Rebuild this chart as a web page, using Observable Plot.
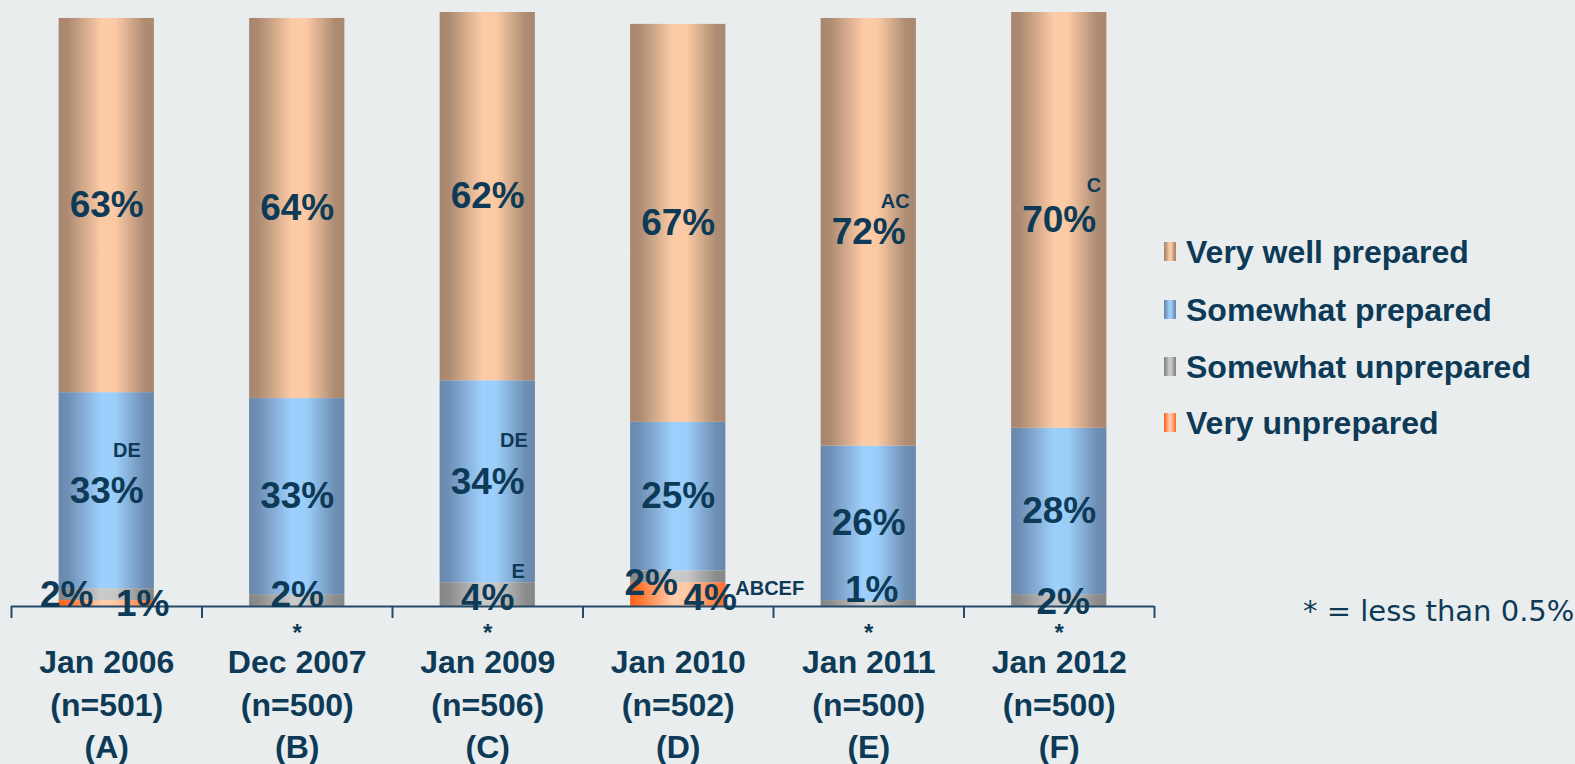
<!DOCTYPE html>
<html>
<head>
<meta charset="utf-8">
<script src="https://cdn.jsdelivr.net/npm/d3@7"></script>
<script src="https://cdn.jsdelivr.net/npm/@observablehq/plot@0.6"></script>
<style>
  body { margin: 0; background: #e9edee; }
  #wrap { position: relative; width: 1575px; height: 764px; overflow: hidden; background: #e9edee; font-family: "Liberation Sans", Arial, sans-serif; color: #0d3a56; }
  #wrap svg { position: absolute; left: 0; top: 0; }
  .leg { position: absolute; left: 1186px; font-size: 32px; line-height: 32px; font-weight: bold; white-space: nowrap; }
  .sw { position: absolute; left: 1164px; width: 12px; height: 19px; }
  .note { position: absolute; left: 1303px; top: 597px; font-family: "DejaVu Sans", Verdana, sans-serif; font-size: 29px; line-height: 29px; white-space: nowrap; }
</style>
</head>
<body>
<div id="wrap"></div>
<script>
// ---------------- data ----------------
const dates = ["Jan 2006", "Dec 2007", "Jan 2009", "Jan 2010", "Jan 2011", "Jan 2012"];
const sampleSizes = ["(n=501)", "(n=500)", "(n=506)", "(n=502)", "(n=500)", "(n=500)"];
const waveLetters = ["(A)", "(B)", "(C)", "(D)", "(E)", "(F)"];

// stacking order bottom -> top
const seriesNames = ["Very unprepared", "Somewhat unprepared", "Somewhat prepared", "Very well prepared"];
const veryUnprepared     = [1, 0, 0, 4, 0, 0];   // 0 = "*" (less than 0.5%)
const somewhatUnprepared = [2, 2, 4, 2, 1, 2];
const somewhatPrepared   = [33, 33, 34, 25, 26, 28];
const veryWellPrepared   = [63, 64, 62, 67, 72, 70];

// significance letters
const sigVeryUnprepared     = ["", "", "", "ABCEF", "", ""];
const sigSomewhatUnprepared = ["", "", "E", "", "", ""];
const sigSomewhatPrepared   = ["DE", "", "DE", "", "", ""];
const sigVeryWellPrepared   = ["", "", "", "", "AC", "C"];

const legendOrder = ["Very well prepared", "Somewhat prepared", "Somewhat unprepared", "Very unprepared"];
const footnote = "* = less than 0.5%";

// ---------------- styles ----------------
const ink = "#0d3a56";
const axisColor = "#244a68";
const font = "Liberation Sans, Arial, sans-serif";
const gradients = {
  "Very well prepared":  [[0,"#a9876e"],[0.1,"#ad8b72"],[0.45,"#fdcba6"],[0.6,"#fbc9a4"],[0.9,"#ad8c73"],[1,"#a9886f"]],
  "Somewhat prepared":   [[0,"#6988ad"],[0.1,"#6f90b6"],[0.45,"#9ed0fd"],[0.6,"#9bcdf9"],[0.9,"#6e8fb4"],[1,"#6988ad"]],
  "Somewhat unprepared": [[0,"#878787"],[0.1,"#8c8c8c"],[0.45,"#cbcbcb"],[0.6,"#c7c7c7"],[0.9,"#8c8c8c"],[1,"#878787"]],
  "Very unprepared":     [[0,"#ff6216"],[0.1,"#ff7430"],[0.45,"#ffcdac"],[0.6,"#ffc7a4"],[0.9,"#ff8244"],[1,"#ff6a20"]]
};
const gradId = s => "g-" + seriesNames.indexOf(s);

// ---------------- table ----------------
const valuesBySeries = [veryUnprepared, somewhatUnprepared, somewhatPrepared, veryWellPrepared];
const sigBySeries = [sigVeryUnprepared, sigSomewhatUnprepared, sigSomewhatPrepared, sigVeryWellPrepared];
const rows = [];
dates.forEach((date, i) => {
  let acc = 0;
  seriesNames.forEach((s, k) => {
    const v = valuesBySeries[k][i];
    rows.push({i, date, series: s, value: v, y1: acc, y2: acc + v, mid: acc + v / 2, sig: sigBySeries[k][i]});
    acc += v;
  });
});

// pixel nudges for the small labels (layout only)
const smallNudge = {
  "0|Somewhat unprepared": [-40, 1], "0|Very unprepared": [36, 1],
  "1|Somewhat unprepared": [0, -5],
  "2|Somewhat unprepared": [0, 4],
  "3|Somewhat unprepared": [-27, 6], "3|Very unprepared": [32, 4],
  "4|Somewhat unprepared": [3, -13],
  "5|Somewhat unprepared": [4, 2]
};
const sigNudge = {
  "0|Somewhat prepared": [34, -40, "end"],
  "2|Somewhat prepared": [40, -41, "end"],
  "2|Somewhat unprepared": [37, -23, "end"],
  "3|Very unprepared": [57, -6, "start"],
  "4|Very well prepared": [41, -31, "end"],
  "5|Very well prepared": [42, -35, "end"]
};

const xc = d => d.i + 0.5;
const marks = [];

// bars
seriesNames.forEach(s => {
  marks.push(Plot.rect(rows.filter(d => d.series === s && d.value > 0), {
    x1: d => d.i + 0.25, x2: d => d.i + 0.75, y1: "y1", y2: "y2", fill: `url(#${gradId(s)})`
  }));
});

// axis
marks.push(Plot.ruleY([0], {stroke: axisColor, strokeWidth: 2}));
marks.push(Plot.axisX({ticks: d3.range(dates.length + 1), tickSize: 12, tickFormat: () => "", stroke: axisColor, strokeWidth: 2}));

// big labels
marks.push(Plot.text(rows.filter(d => d.series === "Somewhat prepared" || d.series === "Very well prepared"), {
  x: xc, y: "mid", text: d => d.value + "%", fontSize: 37, fontWeight: "bold", fill: ink, fontFamily: font
}));

// small labels
rows.filter(d => (d.series === "Somewhat unprepared" || d.series === "Very unprepared") && d.value > 0).forEach(d => {
  const [dx, dy] = smallNudge[d.i + "|" + d.series] || [0, 0];
  marks.push(Plot.text([d], {x: xc, y: "mid", text: d => d.value + "%", dx, dy, fontSize: 37, fontWeight: "bold", fill: ink, fontFamily: font}));
});

// stars for < 0.5%
marks.push(Plot.text(rows.filter(d => d.series === "Very unprepared" && d.value === 0), {
  x: xc, y: () => 0, text: () => "*", dy: 27, fontSize: 24, fontWeight: "bold", fill: ink, fontFamily: font
}));

// significance letters
rows.filter(d => d.sig).forEach(d => {
  const [dx, dy, anchor] = sigNudge[d.i + "|" + d.series] || [38, -35, "end"];
  marks.push(Plot.text([d], {x: xc, y: "mid", text: "sig", dx, dy, textAnchor: anchor, fontSize: 20, fontWeight: "bold", fill: ink, fontFamily: font}));
});

// category labels
marks.push(Plot.text(dates.map((d, i) => ({i, label: d + "\n" + sampleSizes[i] + "\n" + waveLetters[i]})), {
  x: xc, y: () => 0, text: "label", lineAnchor: "top", lineHeight: 1.32, dy: 37,
  fontSize: 32, fontWeight: "bold", fill: ink, fontFamily: font
}));

const svg = Plot.plot({
  width: 1575, height: 764,
  marginLeft: 11, marginRight: 421, marginTop: 12, marginBottom: 158,
  x: {domain: [0, dates.length], axis: null},
  y: {domain: [0, 100], axis: null},
  style: {background: "transparent", fontFamily: font, color: ink, overflow: "visible"},
  marks
});

// gradients
const defs = d3.select(svg).insert("defs", ":first-child");
seriesNames.forEach(s => {
  const g = defs.append("linearGradient").attr("id", gradId(s)).attr("x1", "0").attr("x2", "1").attr("y1", "0").attr("y2", "0");
  gradients[s].forEach(([o, c]) => g.append("stop").attr("offset", o).attr("stop-color", c));
});

const wrap = document.getElementById("wrap");
wrap.appendChild(svg);

// legend (HTML, to the right)
const legendTops = [236, 294, 351, 407];
legendOrder.forEach((s, k) => {
  const sw = document.createElement("div");
  sw.className = "sw";
  sw.style.top = (legendTops[k] + 6) + "px";
  sw.style.background = "linear-gradient(to right," + gradients[s].map(([o, c]) => `${c} ${o * 100}%`).join(",") + ")";
  wrap.appendChild(sw);
  const t = document.createElement("div");
  t.className = "leg";
  t.style.top = legendTops[k] + "px";
  t.textContent = s;
  wrap.appendChild(t);
});
const note = document.createElement("div");
note.className = "note";
note.textContent = footnote;
wrap.appendChild(note);
</script>
</body>
</html>
